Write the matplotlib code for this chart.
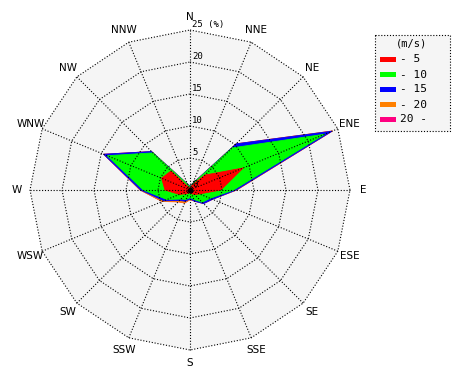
import numpy as np
import matplotlib
matplotlib.use("Agg")
import matplotlib.pyplot as plt
from matplotlib.patches import Rectangle

directions = ['N', 'NNE', 'NE', 'ENE', 'E', 'ESE', 'SE', 'SSE',
              'S', 'SSW', 'SW', 'WSW', 'W', 'WNW', 'NW', 'NNW']
speed_labels = ['- 5', '- 10', '- 15', '- 20', '20 -']
speed_colors = ['#ff0000', '#00ff00', '#0000ff', '#ff8000', '#ff0080']

# frequency (%) per direction for each speed class
s_5   = [0.3, 0.8, 3.3, 9.0, 4.8, 1.6, 1.0, 0.6, 0.4, 0.5, 0.8, 1.8, 3.9, 4.8, 4.2, 0.4]
s_10  = [0.2, 0.2, 6.0, 13.8, 2.0, 1.8, 1.7, 1.0, 0.8, 1.1, 1.2, 2.1, 3.4, 9.2, 4.0, 0.5]
s_15  = [0.1, 0.1, 0.9, 1.2, 0.4, 0.4, 0.3, 0.3, 0.2, 0.3, 0.3, 0.5, 0.4, 0.6, 0.3, 0.1]
s_20  = [0.0, 0.0, 0.0, 0.1, 0.1, 0.0, 0.0, 0.0, 0.1, 0.3, 0.3, 0.3, 0.1, 0.0, 0.0, 0.0]
s_20p = [0.0] * 16

ring_values = [0, 5, 10, 15, 20, 25]
ring_labels = ['0', '5', '10', '15', '20', '25 (%)']
r_max = 25

W, H = 470, 380
fig = plt.figure(figsize=(W / 100, H / 100), dpi=100)
scale = 6.4  # px per %
L = 28.5
cx, cy = 190, 190
size = 2 * L * scale
ax = fig.add_axes([(cx - size / 2) / W, (H - cy - size / 2) / H, size / W, size / H])
ax.set_xlim(-L, L)
ax.set_ylim(-L, L)
ax.set_aspect('equal')
ax.axis('off')

theta = np.deg2rad(np.arange(16) * 22.5)
sx, sy = np.sin(theta), np.cos(theta)

def poly(r):
    r = np.asarray(r, dtype=float)
    x = r * sx
    y = r * sy
    return np.append(x, x[0]), np.append(y, y[0])

# background
bx, by = poly([r_max] * 16)
ax.fill(bx, by, color='#f5f5f5', zorder=0, lw=0)

# stacked series
classes = [s_5, s_10, s_15, s_20, s_20p]
cum = np.cumsum(np.array(classes), axis=0)
for k in range(len(classes) - 1, -1, -1):
    px, py = poly(cum[k])
    ax.fill(px, py, color=speed_colors[k], lw=0.6, edgecolor=speed_colors[k],
            zorder=2 + (4 - k) * 0.01)

# grid
dot = (0, (1, 1.6))
for rv in ring_values[1:]:
    gx, gy = poly([rv] * 16)
    ax.plot(gx, gy, color='black', lw=0.8, ls=dot, zorder=5)
for i in range(16):
    ax.plot([0, r_max * sx[i]], [0, r_max * sy[i]], color='black', lw=0.8, ls=dot, zorder=5)

ax.plot([0], [0], marker='o', ms=3, color='black', zorder=6)

# ring labels
for rv, lab in zip(ring_values, ring_labels):
    ax.text(0.35, rv + 0.1, lab, fontsize=6.5, family='DejaVu Sans Mono',
            ha='left', va='bottom', zorder=7)

# direction labels
for i, d in enumerate(directions):
    rl = 27.0
    ax.text(rl * sx[i], rl * sy[i], d, fontsize=7.5, ha='center', va='center',
            family='DejaVu Sans', clip_on=False)

# legend (drawn in pixel coordinates on an overlay axes)
lax = fig.add_axes([0, 0, 1, 1])
lax.set_xlim(0, W)
lax.set_ylim(H, 0)
lax.axis('off')
lax.add_patch(Rectangle((375, 35), 75, 96, facecolor='#f5f5f5', edgecolor='black',
                        lw=0.8, ls=(0, (1, 1.6))))
lax.text(411, 44, '(m/s)', family='DejaVu Sans Mono', fontsize=7.5, ha='center', va='center')
for j, (lab, col) in enumerate(zip(speed_labels, speed_colors)):
    yy = 59.5 + 15 * j
    lax.add_patch(Rectangle((380, yy - 2.5), 16, 5, facecolor=col, edgecolor='none'))
    lax.text(400, yy, lab, family='DejaVu Sans Mono', fontsize=8, ha='left', va='center')

fig.savefig('out.png', dpi=100)
